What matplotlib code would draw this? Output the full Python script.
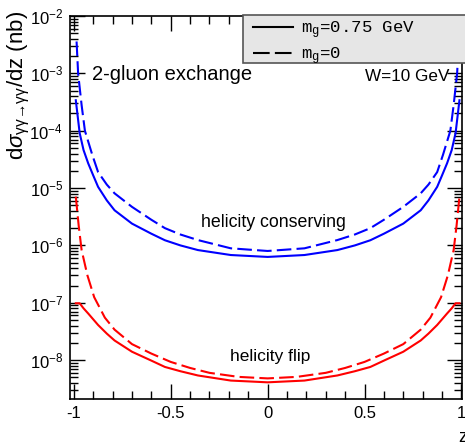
import numpy as np
import matplotlib
matplotlib.use('Agg')
import matplotlib.pyplot as plt
from matplotlib.ticker import MultipleLocator, LogLocator, FixedLocator, FixedFormatter
from matplotlib.patches import Rectangle

params = {
    'font.family': ['Liberation Sans', 'DejaVu Sans'],
    'mathtext.fontset': 'custom',
    'mathtext.rm': 'Liberation Sans',
    'mathtext.it': 'Liberation Sans:italic',
    'mathtext.tt': 'Liberation Mono',
    'axes.unicode_minus': False,
    'xtick.labelsize': 12,
    'ytick.labelsize': 12,
    'figure.dpi': 100,
}
plt.rcParams.update(params)

#%% data (W = 10 GeV, 2-gluon exchange)

# helicity conserving, m_g = 0.75 GeV
z_cons = [-0.99, -0.97, -0.95, -0.926, -0.9, -0.875, -0.83, -0.79, -0.70, -0.60, -0.53, -0.45, -0.36, -0.19, 0.0,
          0.19, 0.36, 0.45, 0.53, 0.60, 0.70, 0.79, 0.83, 0.875, 0.9, 0.926, 0.95, 0.97, 0.99]
cons_mg = [3.4e-4, 9.1e-5, 4.6e-5, 2.7e-5, 1.66e-5, 1.05e-5, 6.1e-6, 4.1e-6, 2.4e-6, 1.6e-6, 1.23e-6, 1.0e-6, 8.3e-7, 6.8e-7, 6.3e-7,
           6.8e-7, 8.3e-7, 1.0e-6, 1.23e-6, 1.6e-6, 2.4e-6, 4.1e-6, 6.1e-6, 1.05e-5, 1.66e-5, 2.7e-5, 4.6e-5, 9.1e-5, 3.4e-4]

# helicity conserving, m_g = 0
z_cons0 = [-0.986, -0.978, -0.96, -0.943, -0.905, -0.875, -0.83, -0.79, -0.70, -0.60, -0.53, -0.45, -0.36, -0.19, 0.0,
           0.19, 0.36, 0.45, 0.53, 0.60, 0.70, 0.79, 0.83, 0.875, 0.905, 0.943, 0.96, 0.978, 0.986]
cons_m0 = [3.6e-3, 1.0e-3, 2.8e-4, 1.0e-4, 3.8e-5, 1.9e-5, 1.15e-5, 8.1e-6, 4.7e-6, 2.8e-6, 2.0e-6, 1.55e-6, 1.24e-6, 8.9e-7, 8.0e-7,
           8.9e-7, 1.24e-6, 1.55e-6, 2.0e-6, 2.8e-6, 4.7e-6, 8.1e-6, 1.15e-5, 1.9e-5, 3.8e-5, 1.0e-4, 2.8e-4, 1.0e-3, 3.6e-3]

# helicity flip, m_g = 0.75 GeV
z_flip = [-0.99, -0.97, -0.95, -0.926, -0.875, -0.83, -0.79, -0.70, -0.60, -0.53, -0.45, -0.36, -0.19, 0.0,
          0.19, 0.36, 0.45, 0.53, 0.60, 0.70, 0.79, 0.83, 0.875, 0.926, 0.95, 0.97, 0.99]
flip_mg = [9.8e-8, 9.8e-8, 8.0e-8, 6.5e-8, 4.1e-8, 2.9e-8, 2.2e-8, 1.4e-8, 9.8e-9, 7.6e-9, 6.4e-9, 5.4e-9, 4.4e-9, 4.1e-9,
           4.4e-9, 5.4e-9, 6.4e-9, 7.6e-9, 9.8e-9, 1.4e-8, 2.2e-8, 2.9e-8, 4.1e-8, 6.5e-8, 8.0e-8, 9.8e-8, 9.8e-8]

# helicity flip, m_g = 0
z_flip0 = [-0.99, -0.975, -0.96, -0.93, -0.895, -0.84, -0.79, -0.70, -0.60, -0.50, -0.40, -0.30, -0.15, 0.0,
           0.15, 0.30, 0.40, 0.50, 0.60, 0.70, 0.79, 0.84, 0.895, 0.93, 0.96, 0.975, 0.99]
flip_m0 = [7.1e-6, 2.2e-6, 8.3e-7, 3.0e-7, 1.25e-7, 5.5e-8, 3.4e-8, 1.9e-8, 1.3e-8, 9.3e-9, 7.3e-9, 6.0e-9, 5.1e-9, 4.8e-9,
           5.1e-9, 6.0e-9, 7.3e-9, 9.3e-9, 1.3e-8, 1.9e-8, 3.4e-8, 5.5e-8, 1.25e-7, 3.0e-7, 8.3e-7, 2.2e-6, 7.1e-6]

xtick_vals = [-1, -0.5, 0, 0.5, 1]
xtick_labels = ['-1', '-0.5', '0', '0.5', '1']
legend_labels = [r'm$_\mathtt{g}$=0.75 GeV', r'm$_\mathtt{g}$=0']

#%%

fig = plt.figure(figsize=(4.65, 4.45))
ax = fig.add_axes([0.1505, 0.1034, 0.843, 0.8606])

dash = (7, 2.5)
ax.plot(z_cons, cons_mg, color='#0000ff', lw=1.5)
ax.plot(z_cons0, cons_m0, color='#0000ff', lw=1.5, dashes=dash)
ax.plot(z_flip, flip_mg, color='#ff0000', lw=1.5)
ax.plot(z_flip0, flip_m0, color='#ff0000', lw=1.5, dashes=dash)

ax.set_yscale('log')
ax.set_xlim(-1.02, 1.003)
ax.set_ylim(2.1e-9, 1e-2)

ax.xaxis.set_major_locator(FixedLocator(xtick_vals))
ax.xaxis.set_major_formatter(FixedFormatter(xtick_labels))
ax.xaxis.set_minor_locator(MultipleLocator(0.1))
ax.yaxis.set_major_locator(LogLocator(base=10, numticks=20))
ax.yaxis.set_minor_locator(LogLocator(base=10, subs=np.arange(2, 10), numticks=20))

ax.tick_params(which='both', direction='in', top=True, right=True, width=1, color='black')
ax.tick_params(which='major', length=11, pad=5)
ax.tick_params(which='minor', length=6)
for sp in ax.spines.values():
    sp.set_linewidth(1.2)

ax.text(0.057, 0.8486, '2-gluon exchange', transform=ax.transAxes, fontsize=14.5, va='center')
ax.text(0.969, 0.8415, 'W=10 GeV', transform=ax.transAxes, fontsize=12.3, va='center', ha='right')
ax.text(0.52, 0.462, 'helicity conserving', transform=ax.transAxes, fontsize=12.8, va='center', ha='center')
ax.text(0.512, 0.11, 'helicity flip', transform=ax.transAxes, fontsize=12.5, va='center', ha='center')

fig.text(0.04, 1 - 85/445, r'd$\sigma_{\mathrm{γγ→γγ}}$/dz (nb)', rotation=90, fontsize=16,
         va='center', ha='center')
fig.text(458/465, 1 - 437/445, 'z', fontsize=13, va='center', ha='left')

# legend box
box = Rectangle((243/465, 1 - 63/445), 0.5, 48/445, transform=fig.transFigure,
                facecolor='#e6e6e6', edgecolor='#555555', lw=1.2, zorder=5, clip_on=False)
fig.patches.append(box)
h1, = ax.plot([], [], color='black', lw=1.5)
h2, = ax.plot([], [], color='black', lw=1.5, dashes=(8, 2.5))
leg = fig.legend([h1, h2], legend_labels, loc='upper left', bbox_to_anchor=(250/465, 1 - 16/445),
                 frameon=False, prop={'family': 'Liberation Mono', 'size': 12.5},
                 handlelength=2.3, handletextpad=0.45, labelspacing=0.25, borderpad=0.2, borderaxespad=0)
leg.set_zorder(6)

fig.savefig('out.png', dpi=100)
